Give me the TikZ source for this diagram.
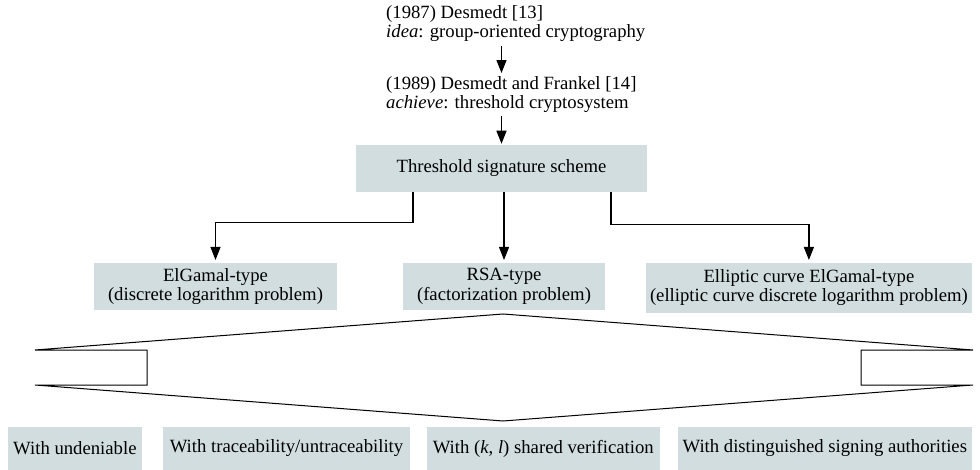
\documentclass[tikz,border=0pt]{standalone}
\usepackage{fontspec}
\setmainfont{Liberation Serif}
\usetikzlibrary{arrows.meta,calc}
\definecolor{boxfill}{RGB}{209,221,222}
\tikzset{
  txt/.style={font=\fontsize{18.7}{19.5}\selectfont},
  plain/.style={txt, inner sep=0pt, align=left, anchor=west},
  box/.style={txt, fill=boxfill, inner sep=0pt, align=center},
  arr/.style={draw=black, line width=1.2pt, -{Triangle[length=13pt,width=10pt]}},
  outline/.style={draw=black, line width=1pt}
}
\begin{document}
\begin{tikzpicture}[x=1pt,y=-1pt]
\useasboundingbox (0,0) rectangle (980,470);

% history of the idea
\node[plain] (idea) at (386,23.5) {(1987) Desmedt [13]\\\textit{idea}: group-oriented cryptography};
\node[plain] (ach) at (386,94.5) {(1989) Desmedt and Frankel [14]\\\textit{achieve}: threshold cryptosystem};

% central scheme
\node[box, minimum width=291pt, minimum height=46.7pt] (ths) at (501.5,168.3) {Threshold signature scheme};

% three families
\node[box, minimum width=243pt, minimum height=47.3pt] (elg) at (215.5,286.3) {ElGamal-type\\(discrete logarithm problem)};
\node[box, minimum width=202pt, minimum height=47.3pt] (rsa) at (504,286.3) {RSA-type\\(factorization problem)};
\node[box, minimum width=326.3pt, minimum height=50pt] (ecc) at (808.9,287.7) {Elliptic curve ElGamal-type\\(elliptic curve discrete logarithm problem)};

% extensions
\node[box, minimum width=133.7pt, minimum height=43pt] (b1) at (74.9,448.5) {With undeniable};
\node[box, minimum width=247pt, minimum height=43pt] (b2) at (286.5,448.5) {With traceability/untraceability};
\node[box, minimum width=233.3pt, minimum height=43pt] (b3) at (543.3,448.5) {With (\textit{k}, \textit{l}) shared verification};
\node[box, minimum width=293.7pt, minimum height=43pt] (b4) at (824.8,448.5) {With distinguished signing authorities};

% connectors
\draw[arr, shorten <=4pt, shorten >=3pt] (idea.south -| ths.north) -- (ach.north -| ths.north);
\draw[arr, shorten <=3pt, shorten >=1pt] (ach.south -| ths.north) -- (ths.north);
\draw[arr, shorten >=2.5pt] ([xshift=-88.5pt]ths.south) -- ++(0,31) -| (elg.north);
\draw[arr, shorten >=2.5pt] (ths.south -| rsa.north) -- (rsa.north);
\draw[arr, shorten >=2.5pt] ([xshift=109.5pt]ths.south) -- ++(0,33) -| (ecc.north);

% spreading block
\coordinate (top) at (503,314);
\coordinate (bot) at (503,421);
\draw[outline] (35,350) -- (top) -- (973,350) -- (861,350) -- (861,385) -- (973,385)
  -- (bot) -- (35,385) -- (147,385) -- (147,350) -- cycle;
\end{tikzpicture}
\end{document}
